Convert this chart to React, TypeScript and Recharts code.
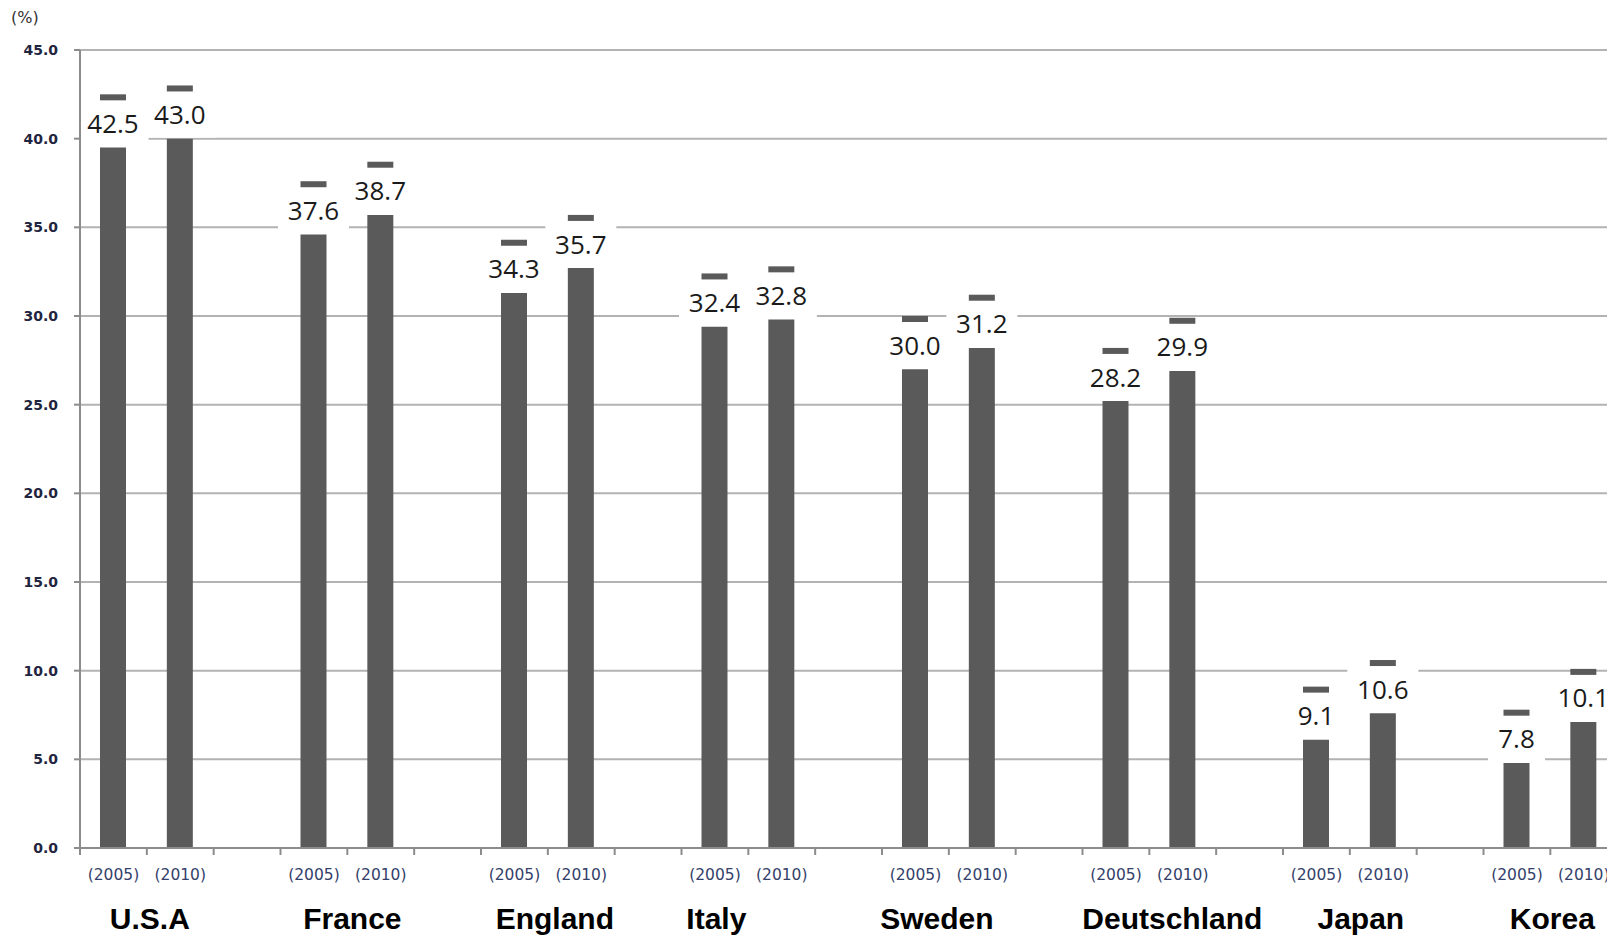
import { Bar, BarChart, CartesianGrid, XAxis, YAxis } from "recharts";

const countries = ["U.S.A", "France", "England", "Italy", "Sweden", "Deutschland", "Japan", "Korea"];
const years = ["(2005)", "(2010)"];
const rate2005 = [42.5, 37.6, 34.3, 32.4, 30.0, 28.2, 9.1, 7.8];
const rate2010 = [43.0, 38.7, 35.7, 32.8, 31.2, 29.9, 10.6, 10.1];
const yTicks = [0, 5, 10, 15, 20, 25, 30, 35, 40, 45];

// the column stops short of the value by this much, the label sits in the gap
const LABEL_GAP = 3;

// country names were placed by hand in the original, not exactly centred
const nameNudge = [3, 5, 7, -32, -12, 23, 11, 2];

type Row = {
  key: string;
  year?: string;
  country?: string;
  idx?: number;
  value?: number;
  base?: number;
  gap?: number;
};

const rows: Row[] = countries.flatMap((country, i) => {
  const pair: Row[] = [rate2005[i], rate2010[i]].map((value, j) => ({
    key: `${country}-${j}`,
    year: years[j],
    country: j === 0 ? country : undefined,
    idx: i,
    value,
    base: value - LABEL_GAP,
    gap: LABEL_GAP,
  }));
  return [...pair, { key: `${country}-blank` }];
});

const AXIS_W = 80;
const CHART_W = 1684;
const CHART_H = 937;
const SLOT = (CHART_W - AXIS_W) / rows.length;
const AXIS_COLOR = "#8c8c8c";
const BAR_COLOR = "#5a5a5a";

const findRow = (key: string) => rows.find((r) => r.key === key);

const YearTick = (props: any) => {
  const { x, y, payload } = props;
  const row = findRow(payload.value);
  return (
    <g>
      <line x1={x - SLOT / 2} x2={x - SLOT / 2} y1={y} y2={y + 7} stroke={AXIS_COLOR} strokeWidth={2} />
      {row?.year && (
        <text
          x={x}
          y={y + 27}
          textAnchor="middle"
          dominantBaseline="central"
          fontFamily="DejaVu Sans"
          fontSize={15.5}
          fill="#34416a"
        >
          {row.year}
        </text>
      )}
    </g>
  );
};

const CountryTick = (props: any) => {
  const { x, y, payload } = props;
  const row = findRow(payload.value);
  if (!row?.country) return null;
  return (
    <text
      x={x + SLOT / 2 + nameNudge[row.idx ?? 0]}
      y={y + 35}
      textAnchor="middle"
      dominantBaseline="central"
      fontFamily="Liberation Sans, Arial, sans-serif"
      fontWeight="bold"
      fontSize={30}
      fill="#000"
    >
      {row.country}
    </text>
  );
};

const GapShape = (props: any) => {
  const { x, y, width, height, payload } = props;
  if (payload?.value == null) return null;
  const text = payload.value.toFixed(1);
  const boxW = text.length * 14 + 15;
  const cx = x + width / 2;
  return (
    <g>
      <rect x={cx - boxW / 2} y={y + 6} width={boxW} height={height - 7} fill="#fff" />
      <rect x={x} y={y} width={width} height={6} fill={BAR_COLOR} />
      <text
        x={cx}
        y={y + height / 2 + 2}
        textAnchor="middle"
        dominantBaseline="central"
        fontFamily="Open Sans, sans-serif"
        fontSize={26}
        fill="#1a1a1a"
      >
        {text}
      </text>
    </g>
  );
};

export default function App() {
  return (
    <div
      style={{
        position: "absolute",
        left: 0,
        top: 0,
        width: 1607,
        height: 937,
        overflow: "hidden",
        background: "#fff",
      }}
    >
      <div
        style={{
          position: "absolute",
          left: 11,
          top: 8,
          fontFamily: "DejaVu Sans",
          fontSize: 16,
          color: "#333",
        }}
      >
        (%)
      </div>
      <BarChart
        width={CHART_W}
        height={CHART_H}
        data={rows}
        margin={{ top: 50, right: 0, bottom: 0, left: 0 }}
        barSize={26}
      >
        <CartesianGrid vertical={false} stroke="#b3b3b3" strokeWidth={2} />
        <YAxis
          width={AXIS_W}
          domain={[0, 45]}
          ticks={yTicks}
          interval={0}
          tickFormatter={(v: number) => v.toFixed(1)}
          axisLine={{ stroke: AXIS_COLOR, strokeWidth: 2 }}
          tickLine={{ stroke: AXIS_COLOR, strokeWidth: 2 }}
          tickSize={6}
          tickMargin={16}
          tick={{ fontFamily: "DejaVu Sans", fontWeight: "bold", fontSize: 14, fill: "#1f2540" }}
        />
        <XAxis
          dataKey="key"
          interval={0}
          height={35}
          tickSize={0}
          tickMargin={0}
          tickLine={false}
          axisLine={{ stroke: AXIS_COLOR, strokeWidth: 2 }}
          tick={<YearTick />}
        />
        <XAxis
          xAxisId="country"
          dataKey="key"
          interval={0}
          height={54}
          tickSize={0}
          tickMargin={0}
          tickLine={false}
          axisLine={false}
          tick={<CountryTick />}
        />
        <Bar dataKey="base" stackId="a" fill={BAR_COLOR} isAnimationActive={false} />
        <Bar dataKey="gap" stackId="a" shape={<GapShape />} isAnimationActive={false} />
      </BarChart>
    </div>
  );
}
